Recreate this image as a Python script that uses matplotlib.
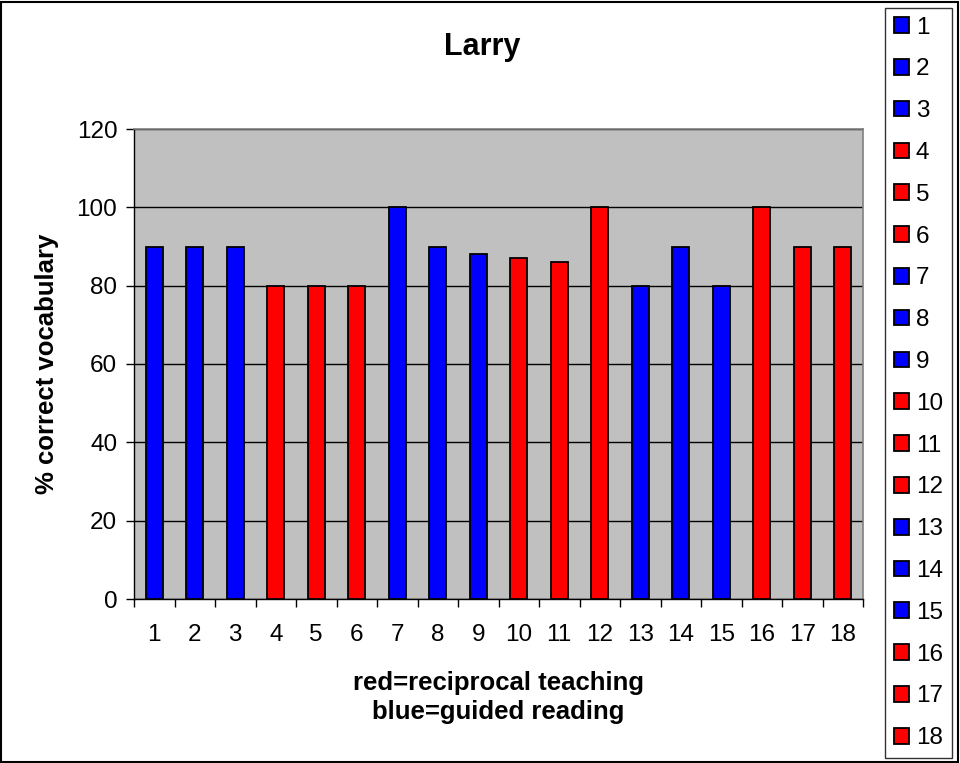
import matplotlib
matplotlib.use("Agg")
import matplotlib.pyplot as plt
from matplotlib.patches import Rectangle
from matplotlib.ticker import FixedLocator, NullFormatter

plt.rcParams['font.family'] = ['Liberation Sans', 'DejaVu Sans']

sessions = [str(i) for i in range(1, 19)]
values = [90, 90, 90, 80, 80, 80, 100, 90, 88, 87, 86, 100, 80, 90, 80, 100, 90, 90]
methods = ['guided', 'guided', 'guided', 'reciprocal', 'reciprocal', 'reciprocal',
           'guided', 'guided', 'guided', 'reciprocal', 'reciprocal', 'reciprocal',
           'guided', 'guided', 'guided', 'reciprocal', 'reciprocal', 'reciprocal']
method_colors = {'guided': '#0000FF', 'reciprocal': '#FF0000'}

title = "Larry"
ylabel = "% correct vocabulary"
xlabel = "red=reciprocal teaching\nblue=guided reading"

W, H = 960, 763
fig = plt.figure(figsize=(W / 100, H / 100), dpi=100)
ax = fig.add_axes([134 / W, 1 - 599 / H, (863 - 134) / W, (599 - 129) / H])
ax.set_facecolor('#C0C0C0')

x = list(range(1, len(values) + 1))
colors = [method_colors[m] for m in methods]
bars = ax.bar(x, values, width=0.42, color=colors, edgecolor='black', linewidth=1.3, zorder=3)

ax.set_xlim(0.5, len(values) + 0.5)
ax.set_ylim(0, 120)
ax.set_yticks(range(0, 121, 20))
ax.yaxis.grid(True, color='black', linewidth=1.0, zorder=1)
ax.set_axisbelow(True)

ax.set_xticks(x)
ax.set_xticklabels(sessions)
ax.tick_params(axis='x', which='major', length=0, pad=18, labelsize=17.5)
ax.xaxis.set_minor_locator(FixedLocator([i + 0.5 for i in range(0, len(values) + 1)]))
ax.xaxis.set_minor_formatter(NullFormatter())
ax.tick_params(axis='x', which='minor', length=6, width=1, direction='out')
ax.tick_params(axis='y', length=6, width=1, direction='out', labelsize=17.5, pad=6)

for side in ['left', 'bottom']:
    ax.spines[side].set_color('black')
    ax.spines[side].set_linewidth(1.0)
for side in ['top', 'right']:
    ax.spines[side].set_color('#808080')
    ax.spines[side].set_linewidth(1.2)

ax.set_title(title, fontsize=22, fontweight='bold', pad=53, x=(482 - 134) / (863 - 134))
ax.set_ylabel(ylabel, fontsize=18.5, fontweight='bold', labelpad=13)
ax.set_xlabel(xlabel, fontsize=18.5, fontweight='bold', labelpad=18, linespacing=1.25)

leg = fig.legend(list(bars.patches), sessions, loc='upper left',
                 bbox_to_anchor=(885 / W, 1 - 8 / H), fontsize=17.5,
                 handlelength=0.62, handleheight=0.62, handletextpad=0.3,
                 labelspacing=0.815, borderpad=0.35, borderaxespad=0,
                 frameon=True, fancybox=False)
leg.get_frame().set_edgecolor('black')
leg.get_frame().set_linewidth(1.0)

fig.patches.append(Rectangle((0.001, 0.001), 0.997, 0.997, transform=fig.transFigure,
                             fill=False, edgecolor='black', linewidth=1.5))

fig.savefig('out.png', dpi=100)
